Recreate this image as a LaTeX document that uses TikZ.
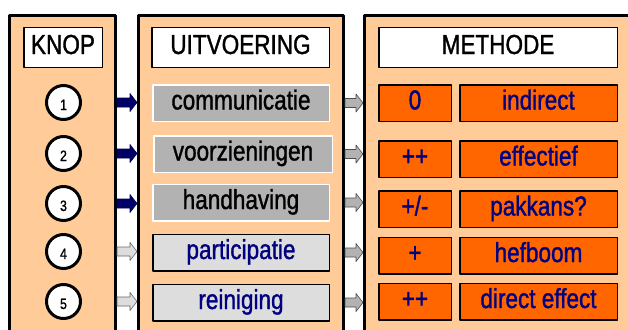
\documentclass[tikz,border=0pt]{standalone}
\usepackage{fontspec}
\usetikzlibrary{calc}
\newfontfamily\slidefont[FakeStretch=0.82,FakeBold=1.2]{Liberation Sans}
\definecolor{peach}{RGB}{255,204,153}
\definecolor{orangebox}{RGB}{255,102,0}
\definecolor{navyarrow}{RGB}{0,0,102}
\definecolor{navytext}{RGB}{0,0,128}
\definecolor{darkgray}{RGB}{178,178,178}
\definecolor{lightgray}{RGB}{221,221,221}
\begin{document}
\begin{tikzpicture}[x=1pt,y=-1pt,line join=round]
	\tikzset{every node/.style={font=\slidefont\fontsize{27.5}{30}\selectfont, text height=19pt, text depth=6pt, inner sep=0pt},
		panel/.style={draw=black, line width=3pt, fill=peach, anchor=north west, minimum height=340pt},
		header/.style={draw=black, line width=1.5pt, fill=white, minimum height=39.5pt},
		knopnum/.style={circle, draw=black, line width=3pt, fill=white, minimum size=34pt, text height=15pt, text depth=0pt, font=\slidefont\fontsize{15}{17}\selectfont},
		darkitem/.style={draw=white, line width=1.5pt, fill=darkgray, minimum width=176.5pt, minimum height=36.5pt},
		lightitem/.style={draw=black, line width=1.5pt, fill=lightgray, text=navytext, minimum width=176.5pt, minimum height=36.5pt},
		score/.style={draw=black, line width=1.5pt, fill=orangebox, text=navytext, minimum width=72.5pt, minimum height=36.5pt},
		effect/.style={score, minimum width=157.5pt},
		blockarrow/.style={to path={let \p1=(\tikztostart), \p2=(\tikztotarget) in
			(\x1,\y1+4.5pt) -- (\x2-7pt,\y1+4.5pt) -- (\x2-7pt,\y1+9pt) -- (\x2,\y1)
			-- (\x2-7pt,\y1-9pt) -- (\x2-7pt,\y1-4.5pt) -- (\x1,\y1-4.5pt) -- cycle}},
		navyblock/.style={blockarrow, fill=navyarrow, draw=navyarrow!80!black, line width=0.6pt},
		lightblock/.style={blockarrow, fill=lightgray, draw=black!60, line width=0.6pt},
		grayblock/.style={blockarrow, fill=darkgray, draw=black!70, line width=0.6pt}}
	\useasboundingbox (0,0) rectangle (628,329);
	\fill[white] (0,0) rectangle (628,329);
	\clip (0,0) rectangle (628,329);
	% the three columns
	\node[panel, minimum width=106pt] (knoppanel) at (8,14) {};
	\node[panel, minimum width=205pt] (uitvpanel) at (137,14) {};
	\node[panel, minimum width=300pt] (methpanel) at (363,14) {};
	\node[header, minimum width=78.5pt] (knophead) at (63,47.5) {KNOP};
	\node[header, minimum width=177.5pt] (uitvhead) at (240.5,47.5) {UITVOERING};
	\node[header, minimum width=238.5pt] (methhead) at (498,47.5) {METHODE};
	% knoppen
	\foreach \n/\y in {1/102.5,2/153.5,3/203.5,4/251.5,5/301.5}
		\node[knopnum] (n\n) at (63.5,\y) {\n};
	% uitvoering
	\node[darkitem] (u1) at (241,103) {communicatie};
	\node[darkitem, minimum width=178.5pt] (u2) at (243,154) {voorzieningen};
	\node[darkitem] (u3) at (241,202.5) {handhaving};
	\node[lightitem] (u4) at (241,252.5) {participatie};
	\node[lightitem] (u5) at (241,302.5) {reiniging};
	% methode
	\node[score] (s1) at (415,103) {0};
	\node[effect] (m1) at (538.5,103) {indirect};
	\node[score] (s2) at (415,159) {++};
	\node[effect] (m2) at (538.5,159) {effectief};
	\node[score] (s3) at (415,209) {+/-};
	\node[effect] (m3) at (538.5,209) {pakkans?};
	\node[score] (s4) at (415,255.5) {+};
	\node[effect] (m4) at (538.5,255.5) {hefboom};
	\node[score] (s5) at (415,301.5) {++};
	\node[effect] (m5) at (538.5,301.5) {direct effect};
	% pijlen
	\foreach \i in {1,2,3}
		\draw[navyblock] (knoppanel.east |- n\i) to (uitvpanel.west |- n\i);
	\foreach \i in {4,5}
		\draw[lightblock] (knoppanel.east |- n\i) to (uitvpanel.west |- n\i);
	\foreach \i in {1,...,5}
		\draw[grayblock] (uitvpanel.east |- u\i) to (methpanel.west |- u\i);
\end{tikzpicture}
\end{document}
